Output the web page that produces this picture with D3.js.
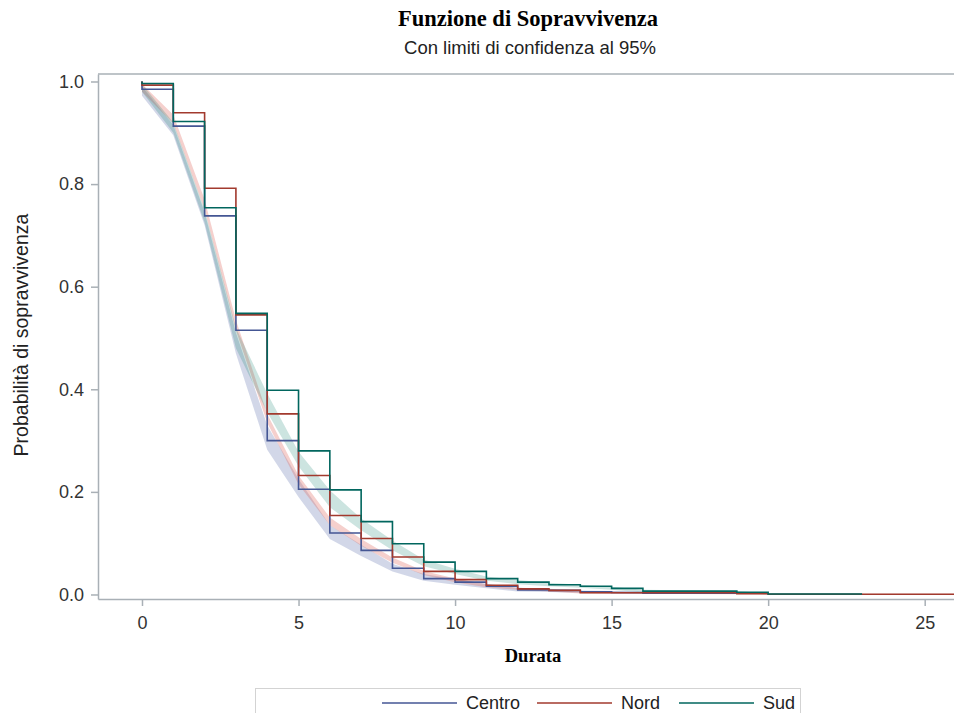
<!DOCTYPE html>
<html>
<head>
    <meta charset="utf-8">
    <title>Funzione di Sopravvivenza</title>
    <script src="https://cdn.jsdelivr.net/npm/d3@7"></script>
    <style>
        body { margin: 0; background: #fff; }
        text { font-family: Arial, "Liberation Sans", sans-serif; fill: #333; }
    </style>
</head>
<body>
<svg id="drawingplace" width="954" height="713"></svg>
<script>
    // group names and colours
    let groups = ["Centro", "Nord", "Sud"]
    let colors = {Centro: "#445694", Nord: "#a23a2e", Sud: "#01665e"}
    let bandColors = {Centro: "rgba(68,86,160,0.24)", Nord: "rgba(225,110,100,0.32)", Sud: "rgba(1,120,100,0.2)"}

    // Kaplan-Meier estimates (time, survival)
    let centroTime = [0, 1, 2, 3, 4, 5, 6, 7, 8, 9, 10, 11, 12, 13, 14, 15, 16, 19]
    let centroSurv = [0.985, 0.913, 0.738, 0.515, 0.300, 0.205, 0.120, 0.086, 0.051, 0.031, 0.024, 0.016, 0.009, 0.008, 0.005, 0.004, 0.0025, 0.0025]
    let centroLo = [0.972, 0.895, 0.72, 0.47, 0.282, 0.19, 0.108, 0.075, 0.045, 0.027, 0.019, 0.012, 0.006, 0.005, 0.003, 0.002, 0.001, 0.001]
    let centroHi = [0.99, 0.915, 0.745, 0.51, 0.33, 0.225, 0.135, 0.097, 0.06, 0.04, 0.03, 0.021, 0.013, 0.011, 0.008, 0.007, 0.005, 0.005]

    let nordTime = [0, 1, 2, 3, 4, 5, 6, 7, 8, 9, 10, 11, 12, 13, 14, 19, 20, 26]
    let nordSurv = [0.993, 0.939, 0.792, 0.545, 0.352, 0.232, 0.154, 0.109, 0.073, 0.045, 0.029, 0.018, 0.011, 0.008, 0.0035, 0.0013, 0.0004, 0.0004]
    let nordLo = [0.98, 0.918, 0.75, 0.515, 0.335, 0.215, 0.135, 0.095, 0.062, 0.038, 0.024, 0.014, 0.009, 0.006, 0.002, 0.0005, 0, 0]
    let nordHi = [0.995, 0.935, 0.77, 0.535, 0.352, 0.232, 0.15, 0.108, 0.072, 0.046, 0.031, 0.02, 0.013, 0.01, 0.005, 0.003, 0.0012, 0.0012]

    let sudTime = [0, 1, 2, 3, 4, 5, 6, 7, 8, 9, 10, 11, 12, 13, 14, 15, 16, 19, 20, 23]
    let sudSurv = [0.996, 0.922, 0.754, 0.548, 0.398, 0.280, 0.204, 0.142, 0.099, 0.063, 0.045, 0.031, 0.024, 0.019, 0.016, 0.012, 0.0065, 0.0045, 0.001, 0.001]
    let sudLo = [0.98, 0.9, 0.725, 0.48, 0.355, 0.25, 0.17, 0.125, 0.086, 0.055, 0.04, 0.027, 0.02, 0.016, 0.013, 0.009, 0.004, 0.003, 0, 0]
    let sudHi = [0.995, 0.92, 0.75, 0.52, 0.392, 0.278, 0.203, 0.148, 0.105, 0.068, 0.05, 0.035, 0.028, 0.023, 0.019, 0.015, 0.009, 0.007, 0.002, 0.002]

    let xTicks = [0, 5, 10, 15, 20, 25]
    let yTicks = [0.0, 0.2, 0.4, 0.6, 0.8, 1.0]

    let series = {
        Centro: {time: centroTime, surv: centroSurv, lo: centroLo, hi: centroHi},
        Nord: {time: nordTime, surv: nordSurv, lo: nordLo, hi: nordHi},
        Sud: {time: sudTime, surv: sudSurv, lo: sudLo, hi: sudHi}
    }

    let plot = {left: 98, right: 956, top: 74, bottom: 599}

    let x = d3.scaleLinear().domain([-1.405, 26.0]).range([plot.left, plot.right])
    let y = d3.scaleLinear().domain([-0.0088, 1.0146]).range([plot.bottom, plot.top])

    let svg = d3.select("#drawingplace")

    // titles
    svg.append("text")
        .attr("x", 528).attr("y", 26)
        .attr("text-anchor", "middle")
        .style("font-family", "'Times New Roman', 'Liberation Serif', serif")
        .style("font-weight", "bold").style("font-size", "22.5px").style("fill", "#000")
        .text("Funzione di Sopravvivenza")
    svg.append("text")
        .attr("x", 530).attr("y", 54)
        .attr("text-anchor", "middle")
        .style("font-size", "18.5px").style("fill", "#222")
        .text("Con limiti di confidenza al 95%")

    // confidence bands (drawn first so step lines sit on top)
    let band = d3.area()
        .x(d => x(d.t))
        .y0(d => y(d.lo))
        .y1(d => y(d.hi))

    groups.forEach(g => {
        let s = series[g]
        let pts = s.time.map((t, i) => ({t: t, lo: s.lo[i], hi: s.hi[i]}))
        svg.append("path")
            .datum(pts)
            .attr("d", band)
            .attr("fill", bandColors[g])
            .attr("stroke", "none")
    })

    // survival step functions
    let step = d3.line()
        .x(d => x(d.t))
        .y(d => y(d.s))
        .curve(d3.curveStepAfter)

    groups.forEach(g => {
        let s = series[g]
        let pts = [{t: 0, s: 1}].concat(s.time.map((t, i) => ({t: t, s: s.surv[i]})))
        svg.append("path")
            .datum(pts)
            .attr("d", step)
            .attr("fill", "none")
            .attr("stroke", colors[g])
            .attr("stroke-width", 1.6)
    })

    // frame + axes
    let axisColor = "#a9b0b6"
    svg.append("line")
        .attr("x1", plot.left).attr("x2", plot.right)
        .attr("y1", plot.top).attr("y2", plot.top)
        .attr("stroke", axisColor).attr("stroke-width", 1.5)
    svg.append("line")
        .attr("x1", plot.right).attr("x2", plot.right)
        .attr("y1", plot.top).attr("y2", plot.bottom)
        .attr("stroke", axisColor).attr("stroke-width", 1.5)

    let xAxis = svg.append("g")
        .attr("transform", `translate(0,${plot.bottom})`)
        .call(d3.axisBottom(x).tickValues(xTicks).tickSize(7).tickSizeOuter(0).tickPadding(10))
    let yAxis = svg.append("g")
        .attr("transform", `translate(${plot.left},0)`)
        .call(d3.axisLeft(y).tickValues(yTicks).tickFormat(d3.format(".1f")).tickSize(7).tickSizeOuter(0).tickPadding(7))

    ;[xAxis, yAxis].forEach(a => {
        a.select(".domain").attr("stroke", axisColor).attr("stroke-width", 1.5)
        a.selectAll(".tick line").attr("stroke", axisColor).attr("stroke-width", 1.5)
        a.selectAll(".tick text")
            .style("font-family", "Arial, 'Liberation Sans', sans-serif")
            .style("font-size", "18px").style("fill", "#333")
    })

    // axis labels
    svg.append("text")
        .attr("x", 533).attr("y", 662)
        .attr("text-anchor", "middle")
        .style("font-family", "'Times New Roman', 'Liberation Serif', serif")
        .style("font-weight", "bold").style("font-size", "18.5px").style("fill", "#000")
        .text("Durata")
    svg.append("text")
        .attr("transform", "translate(28,335) rotate(-90)")
        .attr("text-anchor", "middle")
        .style("font-size", "19.5px").style("fill", "#222")
        .text("Probabilità di sopravvivenza")

    // legend
    svg.append("rect")
        .attr("x", 255.5).attr("y", 688.5)
        .attr("width", 545).attr("height", 40)
        .attr("fill", "none").attr("stroke", "#d3d3d3").attr("stroke-width", 1)

    let legendX = {Centro: 382, Nord: 537, Sud: 679}
    groups.forEach(g => {
        svg.append("line")
            .attr("x1", legendX[g]).attr("x2", legendX[g] + 75)
            .attr("y1", 703).attr("y2", 703)
            .attr("stroke", colors[g]).attr("stroke-width", 1.6)
        svg.append("text")
            .attr("x", legendX[g] + 84).attr("y", 709)
            .style("font-size", "18px").style("fill", "#222")
            .text(g)
    })
</script>
</body>
</html>
